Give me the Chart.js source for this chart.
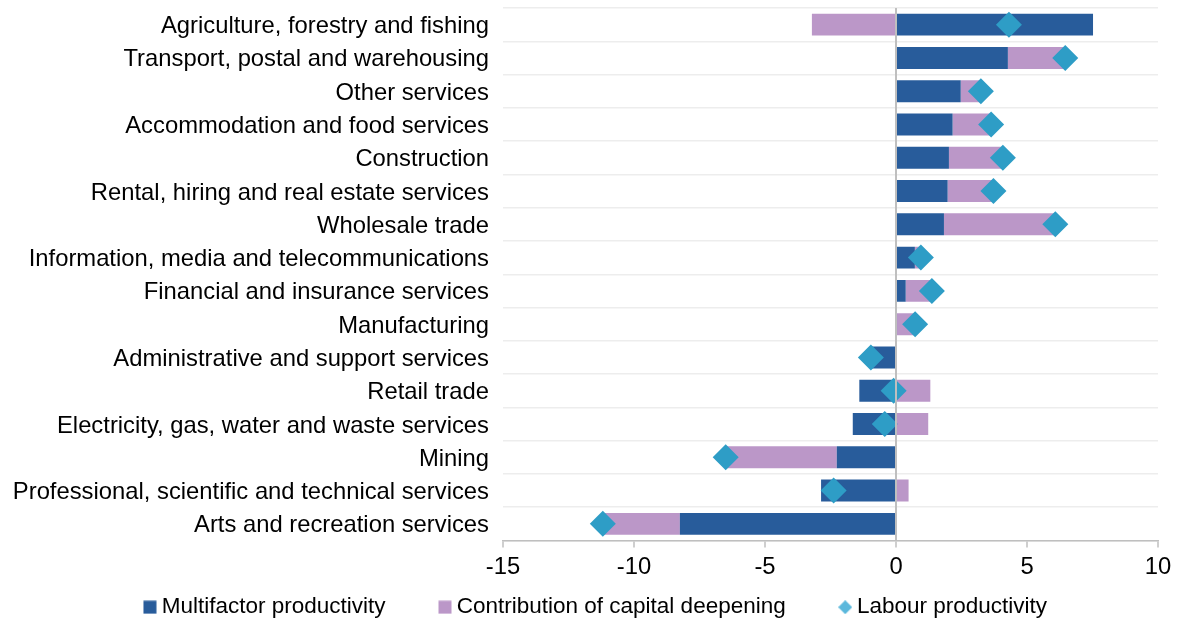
<!DOCTYPE html>
<html>
<head>
<meta charset="utf-8">
<script src="https://cdn.jsdelivr.net/npm/chart.js@4.4.1/dist/chart.umd.min.js"></script>
<style>
  html, body { margin: 0; padding: 0; background: #ffffff; }
  #wrap { width: 1179px; height: 619px; }
</style>
</head>
<body>
<div id="wrap"><canvas id="productivityChart"></canvas></div>
<script>
const industries = [
  "Agriculture, forestry and fishing",
  "Transport, postal and warehousing",
  "Other services",
  "Accommodation and food services",
  "Construction",
  "Rental, hiring and real estate services",
  "Wholesale trade",
  "Information, media and telecommunications",
  "Financial and insurance services",
  "Manufacturing",
  "Administrative and support services",
  "Retail trade",
  "Electricity, gas, water and waste services",
  "Mining",
  "Professional, scientific and technical services",
  "Arts and recreation services",
];

const multifactor = [7.52, 4.27, 2.47, 2.16, 2.02, 1.97, 1.83, 0.72, 0.37, 0.04, -0.96, -1.40, -1.65, -2.26, -2.86, -8.25];
const capitalDeepening = [-3.21, 2.19, 0.77, 1.47, 2.06, 1.75, 4.25, 0.23, 1.00, 0.69, 0.00, 1.31, 1.23, -4.24, 0.48, -2.94];
const labourProductivity = [4.31, 6.46, 3.24, 3.63, 4.08, 3.72, 6.08, 0.95, 1.37, 0.73, -0.96, -0.09, -0.43, -6.50, -2.38, -11.19];

const seriesNames = ["Multifactor productivity", "Contribution of capital deepening", "Labour productivity"];

const BLUE = "#285C9B";
const PURPLE = "#BB97C8";
const TEAL = "#2E9DC6";

Chart.defaults.font.family = "Arial, 'Liberation Sans', sans-serif";
Chart.defaults.font.size = 23.8;
Chart.defaults.color = "#000";

// small legend markers (square for bars, diamond for the points)
function legendIcon(shape, color) {
  const c = document.createElement("canvas");
  c.width = 14;
  c.height = 14;
  const g = c.getContext("2d");
  g.fillStyle = color;
  if (shape === "square") {
    g.fillRect(0.5, 0.5, 13, 13);
  } else {
    g.beginPath();
    g.moveTo(7, 0);
    g.lineTo(14, 7);
    g.lineTo(7, 14);
    g.lineTo(0, 7);
    g.closePath();
    g.fill();
  }
  return c;
}

const ctx = document.getElementById("productivityChart");

new Chart(ctx, {
  type: "bar",
  data: {
    labels: industries,
    datasets: [
      {
        label: seriesNames[0],
        data: multifactor,
        backgroundColor: BLUE,
        barPercentage: 0.66,
        categoryPercentage: 1,
        order: 1,
      },
      {
        label: seriesNames[1],
        data: capitalDeepening,
        backgroundColor: PURPLE,
        barPercentage: 0.66,
        categoryPercentage: 1,
        order: 1,
      },
      {
        type: "line",
        label: seriesNames[2],
        data: labourProductivity,
        showLine: false,
        pointStyle: "rectRot",
        pointRadius: 13,
        pointHoverRadius: 13,
        pointBackgroundColor: TEAL,
        pointBorderColor: TEAL,
        pointBorderWidth: 0,
        clip: false,
        order: 0, // keep diamonds above the bars
      },
    ],
  },
  options: {
    indexAxis: "y",
    responsive: true,
    maintainAspectRatio: false,
    animation: false,
    layout: {
      autoPadding: false,
      // negative right padding only nudges the centred legend; the plot's
      // right edge comes from the x axis paddingRight below
      padding: { top: 8, right: -17.5, bottom: -9.5, left: 0 },
    },
    scales: {
      x: {
        stacked: true,
        min: -15,
        max: 10,
        ticks: { stepSize: 5, padding: 6, color: "#000" },
        grid: {
          z: 1,
          // only the zero line is drawn across the plot
          color: (c) => (c.tick && c.tick.value === 0 ? "#BFBFBF" : "rgba(0,0,0,0)"),
          lineWidth: 2,
          tickColor: "#BFBFBF",
          tickWidth: 1.5,
          tickLength: 7,
        },
        border: { color: "#BFBFBF", width: 1.5, z: 1 },
        afterFit: (scale) => {
          scale.height = 41.5;
          scale.paddingRight = 21;
        },
      },
      y: {
        stacked: true,
        offset: true,
        ticks: { padding: 14, labelOffset: 2, color: "#000" },
        grid: {
          offset: true,
          color: "#EDEDED",
          lineWidth: 1.5,
          drawTicks: false,
        },
        border: { display: false },
        afterFit: (scale) => {
          scale.width = 503;
          // labels sit inside their rows, no extra room needed above/below
          scale.paddingTop = 0;
          scale.paddingBottom = 0;
        },
      },
    },
    plugins: {
      tooltip: { enabled: false },
      legend: {
        position: "bottom",
        labels: {
          usePointStyle: true,
          boxWidth: 1,
          boxHeight: 14,
          padding: 14,
          color: "#000",
          font: { size: 22.5 },
          generateLabels: () => [
            { text: seriesNames[0] + "\u2003\u2003", pointStyle: legendIcon("square", BLUE), datasetIndex: 0 },
            { text: seriesNames[1] + "\u2003\u2003", pointStyle: legendIcon("square", PURPLE), datasetIndex: 1 },
            { text: seriesNames[2], pointStyle: legendIcon("diamond", "#5BB8DC"), datasetIndex: 2 },
          ],
        },
      },
    },
  },
});
</script>
</body>
</html>
